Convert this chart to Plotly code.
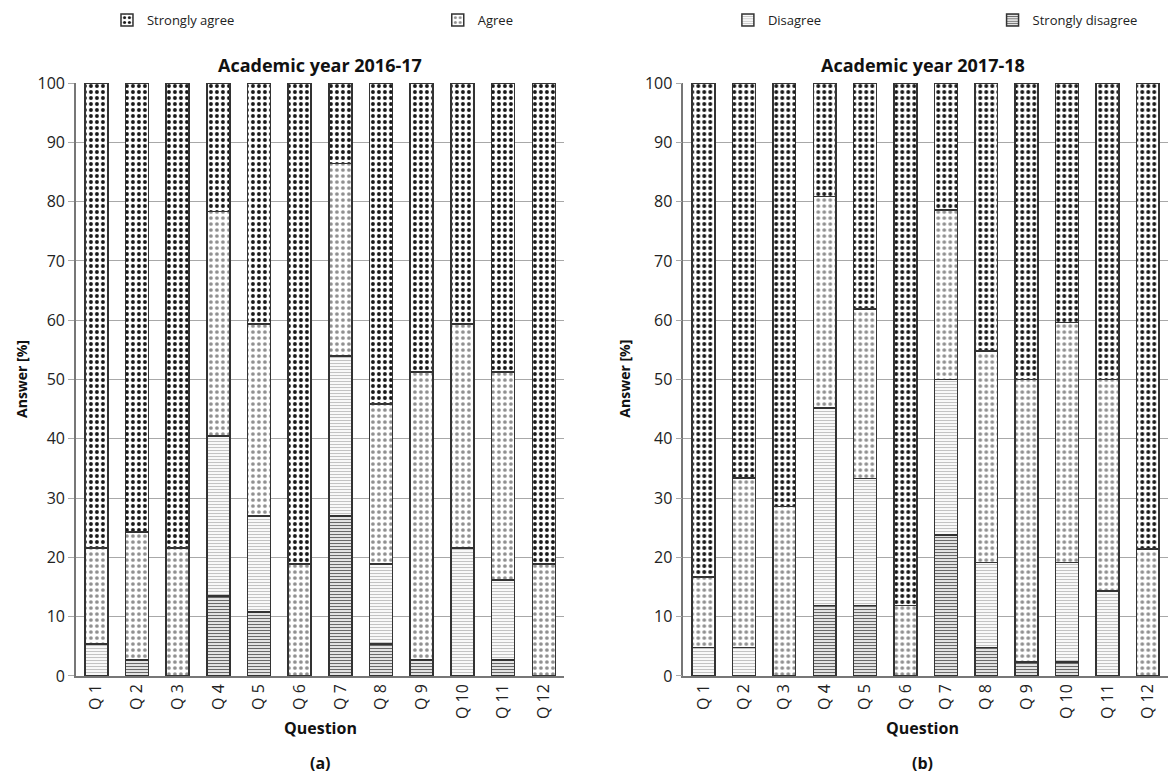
import plotly.graph_objects as go

questions = ["Q 1", "Q 2", "Q 3", "Q 4", "Q 5", "Q 6", "Q 7", "Q 8", "Q 9", "Q 10", "Q 11", "Q 12"]
y_ticks = [0, 10, 20, 30, 40, 50, 60, 70, 80, 90, 100]
series_names = ["Strongly disagree", "Disagree", "Agree", "Strongly agree"]

# Academic year 2016-17 (%)
sd_1617 = [0, 2.7, 0, 13.5, 10.8, 0, 27.0, 5.4, 2.7, 0, 2.7, 0]
d_1617 = [5.4, 0, 0, 27.0, 16.2, 0, 27.0, 13.5, 0, 21.6, 13.5, 0]
a_1617 = [16.2, 21.6, 21.6, 37.8, 32.4, 18.9, 32.4, 27.0, 48.6, 37.8, 35.1, 18.9]
sa_1617 = [78.4, 75.7, 78.4, 21.7, 40.6, 81.1, 13.6, 54.1, 48.7, 40.6, 48.7, 81.1]

# Academic year 2017-18 (%)
sd_1718 = [0, 0, 0, 11.9, 11.9, 0, 23.8, 4.8, 2.4, 2.4, 0, 0]
d_1718 = [4.8, 4.8, 0, 33.3, 21.4, 0, 26.2, 14.3, 0, 16.7, 14.3, 0]
a_1718 = [11.9, 28.6, 28.6, 35.7, 28.6, 11.9, 28.6, 35.7, 47.6, 40.5, 35.7, 21.4]
sa_1718 = [83.3, 66.6, 71.4, 19.1, 38.1, 88.1, 21.4, 45.2, 50.0, 40.4, 50.0, 78.6]

patterns = {
    "Strongly disagree": dict(shape="-", fgcolor="#666666", bgcolor="white", size=3, solidity=0.45, fillmode="replace"),
    "Disagree": dict(shape="-", fgcolor="#c2c2c2", bgcolor="white", size=3, solidity=0.4, fillmode="replace"),
    "Agree": dict(shape=".", fgcolor="#8f8f8f", bgcolor="white", size=6, solidity=0.3, fillmode="replace"),
    "Strongly agree": dict(shape=".", fgcolor="#161616", bgcolor="white", size=6, solidity=0.33, fillmode="replace"),
}
legend_ids = {"Strongly agree": "legend", "Agree": "legend2", "Disagree": "legend3", "Strongly disagree": "legend4"}

FONT = "Open Sans"
fig = go.Figure()

data_sets = [
    ("x", "y", [sd_1617, d_1617, a_1617, sa_1617], True),
    ("x2", "y2", [sd_1718, d_1718, a_1718, sa_1718], False),
]
for xa, ya, vals, show in data_sets:
    for name, v in zip(series_names, vals):
        fig.add_trace(go.Bar(
            x=questions, y=v, name=name, xaxis=xa, yaxis=ya,
            width=0.565,
            marker=dict(color="white", pattern=patterns[name],
                        line=dict(color="#333333", width=1.5)),
            showlegend=show, legend=legend_ids[name],
        ))

axis_common_y = dict(
    range=[0, 100], tickvals=y_ticks, showgrid=True, gridcolor="#a8a8a8", gridwidth=1.2,
    showline=True, linecolor="#777777", linewidth=1.5, ticks="outside", ticklen=6,
    tickcolor="#a8a8a8", tickfont=dict(family=FONT, size=16, color="#222"),
    zeroline=False, layer="above traces", fixedrange=True, automargin=False,
)
axis_common_x = dict(
    range=[-0.5, 11.5], tickangle=-90, showline=True, linecolor="#777777", linewidth=1.5,
    tickfont=dict(family=FONT, size=16, color="#222"), ticks="", fixedrange=True,
    layer="above traces", automargin=False,
)

fig.update_layout(
    width=1168, height=773,
    margin=dict(l=0, r=0, t=0, b=0, autoexpand=False),
    paper_bgcolor="white", plot_bgcolor="white",
    barmode="stack",
    font=dict(family=FONT, size=14, color="#222"),
    xaxis=dict(domain=[0.065, 0.483], anchor="y", **axis_common_x),
    yaxis=dict(domain=[0.1255, 0.8926], anchor="x", **axis_common_y),
    xaxis2=dict(domain=[0.585, 1.0], anchor="y2", **axis_common_x),
    yaxis2=dict(domain=[0.1255, 0.8926], anchor="x2", **axis_common_y),
)

leg_x = {"legend": 0.0916, "legend2": 0.3748, "legend3": 0.6232, "legend4": 0.8498}
for lid, lx in leg_x.items():
    fig.update_layout({lid: dict(x=lx, y=0.974, xanchor="left", yanchor="middle",
                                  orientation="h", bgcolor="rgba(0,0,0,0)",
                                  font=dict(family=FONT, size=13, color="#222"),
                                  itemwidth=30)})

ann = [
    dict(text="<b>Academic year 2016-17</b>", x=0.274, y=0.916, size=18),
    dict(text="<b>Academic year 2017-18</b>", x=0.79, y=0.916, size=18),
    dict(text="<b>Question</b>", x=0.274, y=0.058, size=16),
    dict(text="<b>Question</b>", x=0.79, y=0.058, size=16),
    dict(text="<b>(a)</b>", x=0.274, y=0.013, size=16),
    dict(text="<b>(b)</b>", x=0.79, y=0.013, size=16),
]
for a in ann:
    fig.add_annotation(text=a["text"], x=a["x"], y=a["y"], xref="paper", yref="paper",
                       showarrow=False, xanchor="center", yanchor="middle",
                       font=dict(family=FONT, size=a["size"], color="#111"))
for xp in [0.019, 0.535]:
    fig.add_annotation(text="<b>Answer [%]</b>", x=xp, y=0.51, xref="paper", yref="paper",
                       showarrow=False, textangle=-90, xanchor="center", yanchor="middle",
                       font=dict(family=FONT, size=14, color="#111"))

fig.write_html("out.html", config={"displayModeBar": False},
               post_script="document.body.style.margin='0';document.body.style.overflow='hidden';")
